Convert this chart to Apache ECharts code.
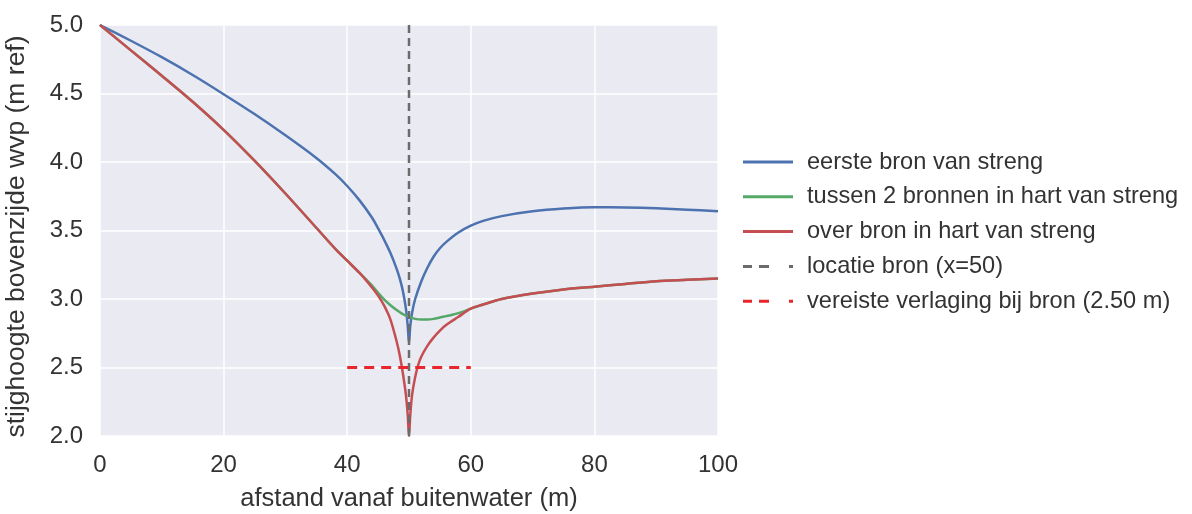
<!DOCTYPE html>
<html>
<head>
<meta charset="utf-8">
<script src="https://cdn.jsdelivr.net/npm/echarts@6/dist/echarts.min.js"></script>
<style>
  html, body {margin: 0; padding: 0; background: #fff;}
  #chart {width: 1192px; height: 514px;}
</style>
</head>
<body>
<div id="chart"></div>
<script>
// afstand (m) en stijghoogte (m ref)
const eersteBron = [
    [0, 5.0], [5, 4.885], [10, 4.765], [15, 4.635], [20, 4.495], [25, 4.35], [30, 4.195],
    [35, 4.03], [38, 3.915], [40, 3.825], [42, 3.72], [44, 3.595], [45, 3.515], [46, 3.43],
    [47, 3.335], [48, 3.22], [48.5, 3.15], [49, 3.06], [49.5, 2.93], [49.8, 2.8], [50, 2.68],
    [50.2, 2.8], [50.5, 2.9], [51, 3.0], [52, 3.13], [53, 3.23], [54, 3.31], [55, 3.37],
    [56, 3.415], [58, 3.485], [60, 3.535], [62, 3.57], [65, 3.605], [70, 3.64], [75, 3.66],
    [80, 3.67], [85, 3.668], [90, 3.662], [95, 3.652], [100, 3.64]
];
const tussenBronnen = [
    [0, 5.0], [5, 4.815], [10, 4.63], [15, 4.44], [20, 4.235], [25, 4.01], [30, 3.77],
    [35, 3.52], [38, 3.37], [40, 3.28], [42, 3.19], [43, 3.145], [44, 3.1], [45, 3.045],
    [46, 2.995], [47, 2.955], [48, 2.92], [49, 2.89], [50, 2.87], [51, 2.855], [52, 2.85],
    [53, 2.85], [54, 2.855], [55, 2.865], [56, 2.875], [57, 2.885], [58, 2.897], [59, 2.912],
    [60, 2.93], [62, 2.96], [65, 3.0], [70, 3.04], [75, 3.07], [80, 3.09], [85, 3.11],
    [90, 3.13], [95, 3.14], [100, 3.15]
];
const overBron = [
    [0, 5.0], [5, 4.815], [10, 4.63], [15, 4.44], [20, 4.235], [25, 4.01], [30, 3.77],
    [35, 3.52], [38, 3.37], [40, 3.28], [42, 3.19], [43, 3.14], [44, 3.085], [45, 3.025],
    [46, 2.95], [47, 2.85], [48, 2.69], [48.5, 2.59], [49, 2.46], [49.5, 2.3], [49.8, 2.15],
    [50, 2.0], [50.2, 2.15], [50.5, 2.3], [51, 2.43], [51.5, 2.52], [52, 2.58], [53, 2.66],
    [54, 2.72], [55, 2.77], [56, 2.81], [58, 2.87], [60, 2.93], [62, 2.96], [65, 3.0],
    [70, 3.04], [75, 3.07], [80, 3.09], [85, 3.11], [90, 3.13], [95, 3.14], [100, 3.15]
];
const locatieBron = [[50, 2.0], [50, 5.0]];
const vereisteVerlaging = [[40, 2.5], [60, 2.5]];

const seriesNames = [
    'eerste bron van streng',
    'tussen 2 bronnen in hart van streng',
    'over bron in hart van streng',
    'locatie bron (x=50)',
    'vereiste verlaging bij bron (2.50 m)'
];

const font = 'Liberation Sans, Arial, sans-serif';
const textColor = '#333';
// legend icons: solid line, and matplotlib-like "- - ." dash
const solidIcon = 'path://M0,0h50v3h-50z';
const dashIcon = 'path://M0,0h9v3h-9z M16,0h10v3h-10z M46,0h4v3h-4z';

const chart = echarts.init(document.getElementById('chart'));

const lineSeries = (name, data, color, width, type, z, smooth) => ({
    name: name,
    type: 'line',
    data: data,
    showSymbol: false,
    symbol: 'none',
    smooth: smooth,
    z: z,
    lineStyle: {color: color, width: width, type: type},
    itemStyle: {color: color}
});

chart.setOption({
    animation: false,
    grid: {
        left: 100, right: 474, top: 25, bottom: 78,
        outerBoundsMode: 'none',
        show: true, backgroundColor: '#EAEAF2', borderWidth: 0
    },
    legend: {
        orient: 'vertical',
        left: 738,
        top: 145,
        itemWidth: 50,
        itemHeight: 3,
        itemGap: 10.8,
        textStyle: {
            fontFamily: font, fontSize: 23.6, color: textColor,
            lineHeight: 23, padding: [0, 0, 0, 9]
        },
        data: [
            {name: seriesNames[0], icon: solidIcon},
            {name: seriesNames[1], icon: solidIcon},
            {name: seriesNames[2], icon: solidIcon},
            {name: seriesNames[3], icon: dashIcon},
            {name: seriesNames[4], icon: dashIcon}
        ]
    },
    xAxis: {
        type: 'value',
        min: 0, max: 100, interval: 20,
        name: 'afstand vanaf buitenwater (m)',
        nameLocation: 'middle',
        nameGap: 50,
        nameTextStyle: {fontFamily: font, fontSize: 25.5, color: textColor},
        axisLine: {show: false},
        axisTick: {show: false},
        axisLabel: {fontFamily: font, fontSize: 24, color: textColor, margin: 17},
        splitLine: {show: true, lineStyle: {color: '#fff', width: 1.5}}
    },
    yAxis: {
        type: 'value',
        min: 2, max: 5, interval: 0.5,
        name: 'stijghoogte bovenzijde wvp (m ref)',
        nameLocation: 'middle',
        nameGap: 70,
        nameTextStyle: {fontFamily: font, fontSize: 26.5, color: textColor, padding: [0, 12, 0, 0]},
        axisLine: {show: false},
        axisTick: {show: false},
        axisLabel: {
            fontFamily: font, fontSize: 24, color: textColor, margin: 17,
            formatter: v => v.toFixed(1)
        },
        splitLine: {show: true, lineStyle: {color: '#fff', width: 1.5}}
    },
    series: [
        lineSeries(seriesNames[0], eersteBron, '#4C72B0', 2.5, 'solid', 3, 0.3),
        lineSeries(seriesNames[1], tussenBronnen, '#55A868', 2.5, 'solid', 4, 0.3),
        lineSeries(seriesNames[2], overBron, '#C44E52', 2.5, 'solid', 5, 0.3),
        lineSeries(seriesNames[3], locatieBron, '#6b6b6b', 2.5, [8, 5], 6, false),
        lineSeries(seriesNames[4], vereisteVerlaging, '#e8262b', 3, [10, 7], 7, false)
    ]
});
</script>
</body>
</html>
